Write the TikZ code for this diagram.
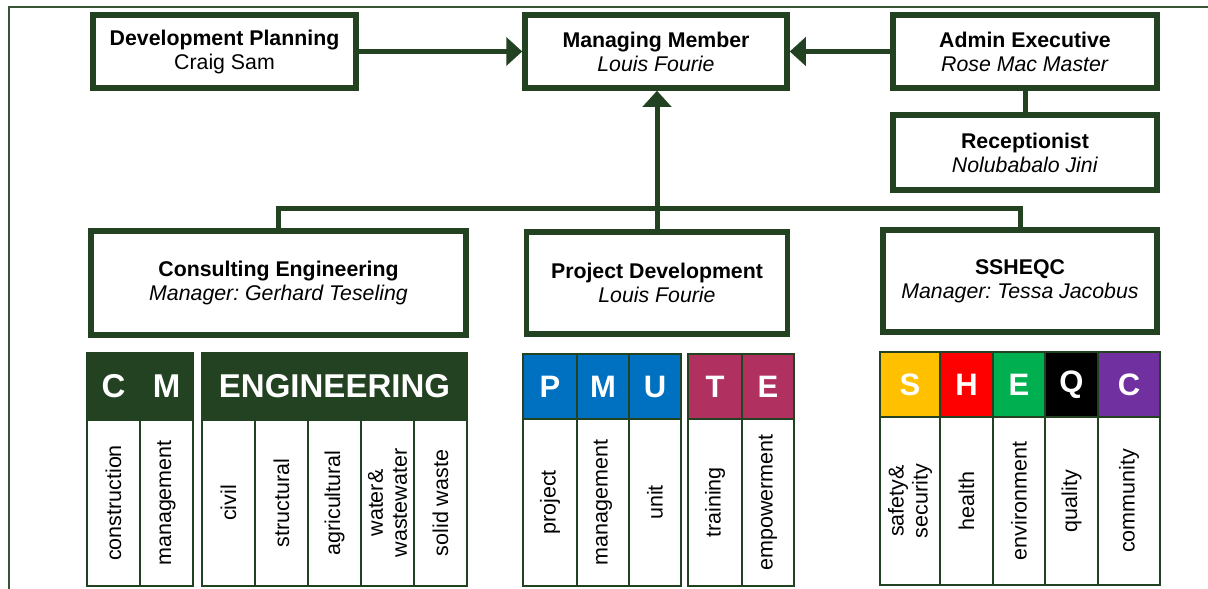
\documentclass[tikz,border=0pt]{standalone}
\usepackage{fontspec}
\setmainfont{Liberation Sans}
\usetikzlibrary{arrows.meta}
\frenchspacing
\definecolor{dkg}{RGB}{35,66,33}
\definecolor{frm}{RGB}{55,85,52}
\definecolor{pblue}{RGB}{0,112,192}
\definecolor{pred}{RGB}{176,48,96}
\definecolor{syel}{RGB}{255,192,0}
\definecolor{sred}{RGB}{255,0,0}
\definecolor{sgrn}{RGB}{0,176,80}
\definecolor{spur}{RGB}{112,48,160}
\tikzset{
  orgbox/.style={draw=dkg, line width=5.5pt, fill=white, inner sep=0pt, align=center,
    font=\fontsize{21.3}{24}\selectfont},
  conn/.style={draw=dkg, line width=5pt},
  arr/.style={conn, -{Triangle[length=16pt,width=28pt]}},
  hcell/.style={draw=dkg, line width=2.5pt, inner sep=0pt, text=white,
    minimum height=65pt, font=\fontsize{31}{31}\bfseries\selectfont},
  bigh/.style={hcell, font=\fontsize{33}{33}\bfseries\selectfont},
  bcell/.style={draw=dkg, line width=2.5pt, inner sep=0pt, fill=white, rotate=90,
    align=center, font=\fontsize{21.5}{24}\selectfont},
}
\begin{document}
\begin{tikzpicture}[x=1pt,y=-1pt]
\useasboundingbox (0,0) rectangle (1208,589);
% frame
\draw[frm, line width=2pt] (9,589) -- (9,6.5) -- (1208,6.5);
% top row
\node[orgbox, minimum width=263pt, minimum height=73pt] (dp) at (224.5,51.5) {\textbf{Development Planning}\\Craig Sam};
\node[orgbox, minimum width=262pt, minimum height=73pt] (mm) at (656,51.5) {\textbf{Managing Member}\\\textit{Louis Fourie}};
\node[orgbox, minimum width=264pt, minimum height=73pt] (ae) at (1025,51.5) {\textbf{Admin Executive}\\\textit{Rose Mac Master}};
\node[orgbox, minimum width=264pt, minimum height=75pt] (rec) at (1025,152.5) {\textbf{Receptionist}\\\textit{Nolubabalo Jini}};
% second row
\node[orgbox, minimum width=375pt, minimum height=104pt] (ce) at (278.5,283) {\textbf{Consulting Engineering}\\\textit{Manager: Gerhard Teseling}};
\node[orgbox, minimum width=261pt, minimum height=102pt] (pd) at (657,283) {\textbf{Project Development}\\\textit{Louis Fourie}};
\node[orgbox, minimum width=274pt, minimum height=102pt] (ss) at (1020,281) {\textbf{SSHEQC}\\\textit{Manager: Tessa Jacobus}};
% connectors
\coordinate (bus) at (0,208);
\draw[arr] (dp) -- (mm);
\draw[arr] (ae) -- (mm);
\draw[conn] (ae) -- (rec);
\draw[arr] (pd.north) -- (pd.north |- mm.south);
\draw[conn] (ce.north) |- (bus -| ss.north) -- (ss.north);
% CM table
\node[bigh, fill=dkg, minimum width=53pt, minimum height=67pt] (hC) at (113.5,386.5) {C};
\node[bigh, fill=dkg, minimum width=53pt, minimum height=67pt] (hM) at (166.5,386.5) {M};
\node[bigh, fill=dkg, minimum width=265pt, minimum height=67pt] (hEng) at (334.5,386.5) {ENGINEERING};
\node[bcell, minimum width=166pt, minimum height=53pt] (b1) at (113.5,503) {construction};
\node[bcell, minimum width=166pt, minimum height=53pt] (b2) at (166.5,503) {management};
\node[bcell, minimum width=166pt, minimum height=53pt] (b3) at (228.5,503) {civil};
\node[bcell, minimum width=166pt, minimum height=53pt] (b4) at (281.5,503) {structural};
\node[bcell, minimum width=166pt, minimum height=53pt] (b5) at (334.5,503) {agricultural};
\node[bcell, minimum width=166pt, minimum height=53pt] (b6) at (387.5,503) {water\&\\wastewater};
\node[bcell, minimum width=166pt, minimum height=53pt] (b7) at (440.5,503) {solid waste};
% PMU TE
\node[hcell, fill=pblue, minimum width=54pt] (hP) at (550,386.5) {P};
\node[hcell, fill=pblue, minimum width=52pt] (hM2) at (603,386.5) {M};
\node[hcell, fill=pblue, minimum width=52pt] (hU) at (655,386.5) {U};
\node[hcell, fill=pred, minimum width=54pt] (hT) at (715,386.5) {T};
\node[hcell, fill=pred, minimum width=52pt] (hE) at (768,386.5) {E};
\node[bcell, minimum width=167pt, minimum height=54pt] (p1) at (550,502.5) {project};
\node[bcell, minimum width=167pt, minimum height=52pt] (p2) at (603,502.5) {management};
\node[bcell, minimum width=167pt, minimum height=52pt] (p3) at (655,502.5) {unit};
\node[bcell, minimum width=167pt, minimum height=54pt] (p4) at (715,502.5) {training};
\node[bcell, minimum width=167pt, minimum height=52pt] (p5) at (768,502.5) {empowerment};
% SHEQC
\node[hcell, fill=syel, minimum width=60pt] (hS) at (910,384.5) {S};
\node[hcell, fill=sred, minimum width=53pt] (hH) at (966.5,384.5) {H};
\node[hcell, fill=sgrn, minimum width=52pt] (hE3) at (1019,384.5) {E};
\node[hcell, fill=black, minimum width=53pt] (hQ) at (1071.5,384.5) {Q};
\node[hcell, fill=spur, minimum width=62pt] (hC3) at (1129,384.5) {C};
\node[bcell, minimum width=168pt, minimum height=60pt] (s1) at (910,501) {safety\&\\security};
\node[bcell, minimum width=168pt, minimum height=53pt] (s2) at (966.5,501) {health};
\node[bcell, minimum width=168pt, minimum height=52pt] (s3) at (1019,501) {environment};
\node[bcell, minimum width=168pt, minimum height=53pt] (s4) at (1071.5,501) {quality};
\node[bcell, minimum width=168pt, minimum height=62pt] (s5) at (1129,501) {community};
\end{tikzpicture}
\end{document}
